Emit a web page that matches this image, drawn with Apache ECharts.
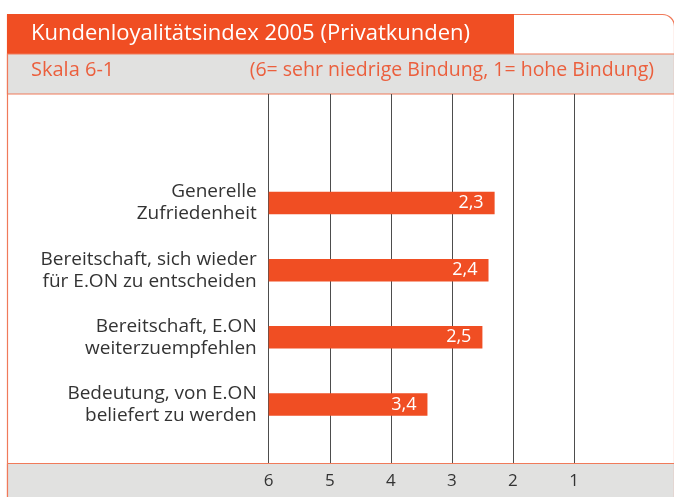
<!DOCTYPE html>
<html>
<head>
<meta charset="utf-8">
<script src="https://cdn.jsdelivr.net/npm/echarts@6/dist/echarts.min.js"></script>
<style>
    html, body { margin: 0; padding: 0; background: #fff; }
    #chart { width: 674px; height: 497px; }
</style>
</head>
<body>
<div id="chart"></div>
<script>
    // Daten
    var categories = [
        'Generelle\nZufriedenheit',
        'Bereitschaft, sich wieder\nfür E.ON zu entscheiden',
        'Bereitschaft, E.ON\nweiterzuempfehlen',
        'Bedeutung, von E.ON\nbeliefert zu werden'
    ];
    var values = [2.3, 2.4, 2.5, 3.4];
    var scaleTop = 6;   // linker Rand der Skala
    var scaleBottom = 1;

    var orange = '#F04E23';
    var lineOrange = '#F07A5A';
    var gray = '#E1E1E0';
    var font = '"Open Sans", "Noto Sans", sans-serif';

    var chart = echarts.init(document.getElementById('chart'));

    // Skala 6..1 wird als Abstand von 6 abgebildet
    var span = scaleTop - scaleBottom;
    var barData = values.map(function (v) { return scaleTop - v; });

    var option = {
        animation: false,
        graphic: [
            // Rahmen
            {
                type: 'rect', z: -10,
                shape: { x: 7.5, y: 14.5, width: 667, height: 500, r: [0, 12, 0, 12] },
                style: { fill: '#fff', stroke: lineOrange, lineWidth: 1.2 }
            },
            // Titelbalken
            {
                type: 'rect', z: -9,
                shape: { x: 7, y: 14, width: 507, height: 40 },
                style: { fill: orange }
            },
            // grauer Skalen-Streifen
            {
                type: 'rect', z: -9,
                shape: { x: 7.5, y: 54, width: 667, height: 40 },
                style: { fill: gray, stroke: lineOrange, lineWidth: 1.2 }
            },
            // unterer grauer Streifen
            {
                type: 'rect', z: -9,
                shape: { x: 7.5, y: 463.5, width: 667, height: 50, r: [0, 0, 0, 12] },
                style: { fill: gray, stroke: lineOrange, lineWidth: 1.2 }
            },
            {
                type: 'text', z: 5,
                left: 31, top: 23,
                style: {
                    text: 'Kundenloyalitätsindex 2005 (Privatkunden)',
                    fill: '#fff', font: '22px ' + font
                }
            },
            {
                type: 'text', z: 5,
                left: 31, top: 60,
                style: {
                    text: 'Skala 6-1',
                    fill: '#EB5F3D', font: '20px ' + font
                }
            },
            {
                type: 'text', z: 5,
                right: 20, top: 60,
                style: {
                    text: '(6= sehr niedrige Bindung, 1= hohe Bindung)',
                    fill: '#EB5F3D', font: '19.5px ' + font
                }
            }
        ],
        grid: [
            { left: 268.7, width: 305.3, top: 169.4, height: 268.7 },
            { left: 268.7, width: 305.3, top: 94, bottom: 34 }
        ],
        xAxis: [
            {
                gridIndex: 0, type: 'value', min: 0, max: span,
                show: false
            },
            {
                gridIndex: 1, type: 'value', min: 0, max: span, interval: 1,
                axisLine: { show: false },
                axisTick: { show: false },
                splitLine: { show: true, lineStyle: { color: '#4d4d4d', width: 1 } },
                axisLabel: {
                    margin: 10, color: '#333', fontSize: 17, fontFamily: font,
                    formatter: function (v) { return scaleTop - v; }
                }
            }
        ],
        yAxis: [
            {
                gridIndex: 0, type: 'category', data: categories, inverse: true,
                axisLine: { show: false },
                axisTick: { show: false },
                axisLabel: {
                    margin: 12, color: '#333', fontSize: 19, fontFamily: font,
                    lineHeight: 22, align: 'right', padding: [0, 0, 14, 0]
                }
            },
            {
                gridIndex: 1, type: 'value', min: 0, max: 1, show: false
            }
        ],
        series: [
            {
                type: 'bar',
                xAxisIndex: 0, yAxisIndex: 0,
                data: barData,
                barWidth: 22.5,
                itemStyle: { color: orange },
                z: 5,
                label: {
                    show: true, position: 'insideRight', distance: 11,
                    color: '#fff', fontSize: 18, fontFamily: font,
                    formatter: function (p) {
                        return String(values[p.dataIndex]).replace('.', ',');
                    }
                }
            },
            {
                type: 'scatter', xAxisIndex: 1, yAxisIndex: 1, data: []
            }
        ]
    };

    chart.setOption(option);
</script>
</body>
</html>
